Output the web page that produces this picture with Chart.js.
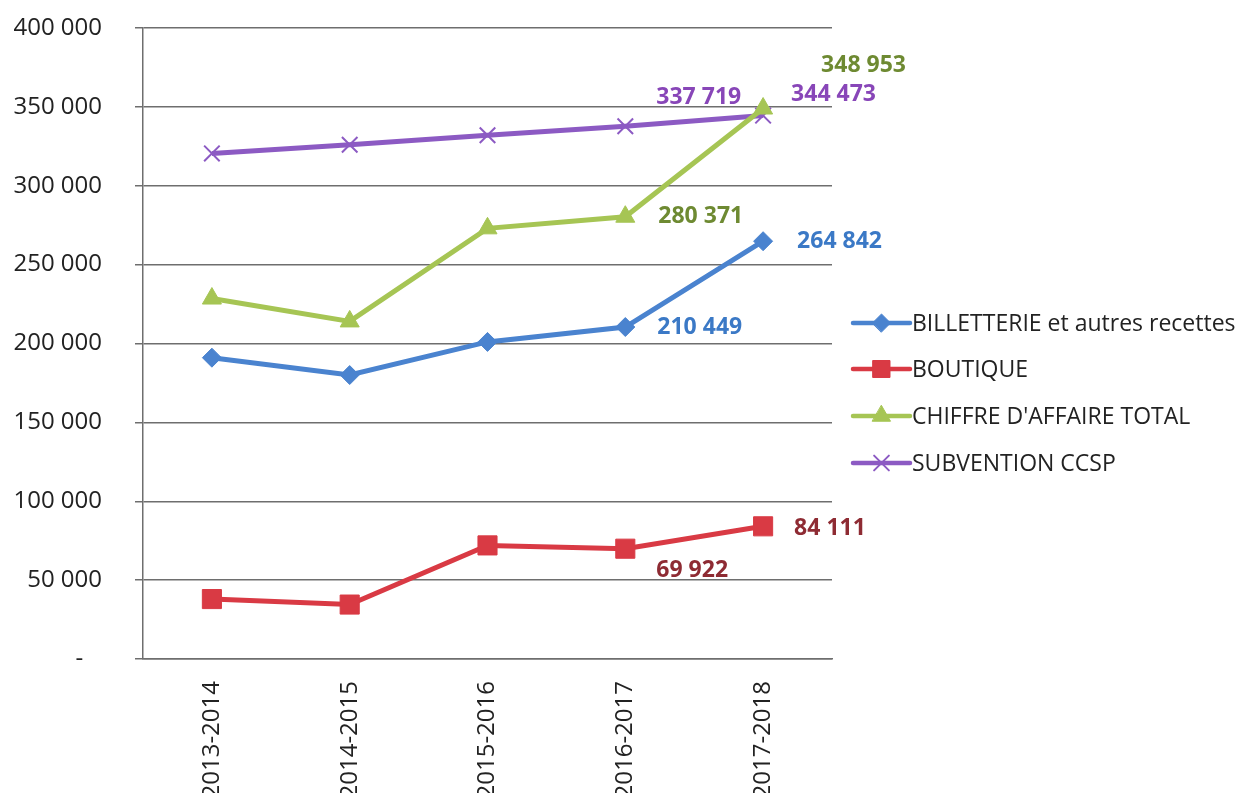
<!DOCTYPE html>
<html>
<head>
<meta charset="utf-8">
<script src="https://cdn.jsdelivr.net/npm/chart.js@4/dist/chart.umd.min.js"></script>
<style>
  html, body { margin: 0; padding: 0; background: #fff; overflow: hidden; }
  #wrap { width: 1242px; height: 793px; position: relative; }
</style>
</head>
<body>
<div id="wrap"><canvas id="c" width="1242" height="793"></canvas></div>
<script>
// Season labels on the category axis
const seasons = ['2013-2014', '2014-2015', '2015-2016', '2016-2017', '2017-2018'];

// Yearly amounts (euros)
const billetterie = [191000, 180000, 201000, 210449, 264842];
const boutique    = [38000, 34500, 72000, 69922, 84111];
const chiffreTotal = [228500, 214000, 273000, 280371, 348953];
const subvention  = [320500, 326000, 332000, 337719, 344473];

// Value axis ticks
const yTicks = [0, 50000, 100000, 150000, 200000, 250000, 300000, 350000, 400000];

// Points whose value is printed next to the marker (season indexes)
const labelledPoints = [3, 4];

// Accounting style: space as thousands separator, dash for zero
function fmt(v) {
  if (v === 0) return '-\u00a0\u00a0\u00a0';
  return String(Math.round(v)).replace(/\B(?=(\d{3})+(?!\d))/g, ' ');
}

const FONT = "'Open Sans', 'Liberation Sans', sans-serif";

// Offsets of the printed values from their markers: [dx to left edge, dy of centre]
const labelOffsets = {
  0: [[32, 0], [34, 0]],
  1: [[31, 22], [31, 2]],
  2: [[33, 0], [58, -43]],
  3: [[31, -29], [28, -21]]
};

const series = [
  { label: 'BILLETTERIE et autres recettes', data: billetterie, color: '#4a83cf', text: '#3b79c6', style: 'rectRot', r: 9.5 },
  { label: 'BOUTIQUE', data: boutique, color: '#d93a44', text: '#8e2b33', style: 'rect', r: 13.5 },
  { label: "CHIFFRE D'AFFAIRE TOTAL", data: chiffreTotal, color: '#a6c554', text: '#6e8a32', style: 'triangle', r: 11 },
  { label: 'SUBVENTION CCSP', data: subvention, color: '#8c5ac3', text: '#8846b8', style: 'crossRot', r: 11 }
];

// Value captions beside the last two markers of every line
const valueLabels = {
  id: 'valueLabels',
  afterDatasetsDraw(chart) {
    const ctx = chart.ctx;
    ctx.save();
    ctx.font = "bold 23px " + FONT;
    ctx.textAlign = 'left';
    ctx.textBaseline = 'middle';
    chart.data.datasets.forEach((ds, di) => {
      const meta = chart.getDatasetMeta(di);
      labelledPoints.forEach((idx, k) => {
        const pt = meta.data[idx];
        const off = labelOffsets[di][k];
        ctx.fillStyle = series[di].text;
        ctx.fillText(fmt(ds.data[idx]), pt.x + off[0], pt.y + off[1]);
      });
    });
    ctx.restore();
  }
};

// Legend to the right of the plot: line sample with marker, then the name
const sideLegend = {
  id: 'sideLegend',
  afterDraw(chart) {
    const ctx = chart.ctx;
    const x0 = 853, x1 = 910, tx = 912;
    const rows = [323, 369, 416, 463];
    ctx.save();
    series.forEach((s, i) => {
      const y = rows[i];
      ctx.strokeStyle = s.color;
      ctx.lineWidth = 4.5;
      ctx.lineCap = 'round';
      ctx.beginPath();
      ctx.moveTo(x0, y);
      ctx.lineTo(x1, y);
      ctx.stroke();
      ctx.fillStyle = s.color;
      ctx.strokeStyle = s.color;
      ctx.lineWidth = s.style === 'crossRot' ? 2 : 1;
      Chart.helpers.drawPoint(ctx, {
        pointStyle: s.style,
        radius: s.style === 'rect' ? 12 : s.r * 0.95,
        borderWidth: ctx.lineWidth
      }, (x0 + x1) / 2, y);
      ctx.fillStyle = '#222';
      ctx.font = "23px " + FONT;
      ctx.textAlign = 'left';
      ctx.textBaseline = 'middle';
      ctx.fillText(s.label, tx, y + 1);
    });
    ctx.restore();
  }
};

new Chart(document.getElementById('c'), {
  type: 'line',
  data: {
    labels: seasons,
    datasets: series.map(s => ({
      label: s.label,
      data: s.data,
      borderColor: s.color,
      backgroundColor: s.color,
      borderWidth: 5,
      pointStyle: s.style,
      pointRadius: s.r,
      pointBorderWidth: s.style === 'crossRot' ? 2 : 1,
      pointBorderColor: s.color,
      pointBackgroundColor: s.color,
      tension: 0
    }))
  },
  options: {
    responsive: false,
    animation: false,
    events: [],
    layout: { padding: { left: 0, right: 410, top: 28, bottom: 0 } },
    plugins: {
      legend: { display: false },
      tooltip: { enabled: false }
    },
    scales: {
      x: {
        offset: true,
        grid: { display: false, drawTicks: false },
        border: { display: true, color: '#6e6e6e', width: 1.5 },
        ticks: {
          color: '#222',
          font: { family: FONT, size: 24 },
          minRotation: 90,
          maxRotation: 90,
          padding: 22
        },
        afterFit(scale) { scale.height = 793 - 659; }
      },
      y: {
        min: 0,
        max: 400000,
        afterBuildTicks(scale) { scale.ticks = yTicks.map(v => ({ value: v })); },
        grid: { color: '#6e6e6e', lineWidth: 1.5, tickLength: 8 },
        border: { display: true, color: '#6e6e6e', width: 1.5 },
        ticks: {
          color: '#222',
          font: { family: FONT, size: 24 },
          padding: 33,
          callback: v => fmt(v)
        },
        afterFit(scale) {
          scale.width = 143;
          scale.paddingTop = 0;
          scale.paddingBottom = 0;
        }
      }
    }
  },
  plugins: [valueLabels, sideLegend]
});
</script>
</body>
</html>
